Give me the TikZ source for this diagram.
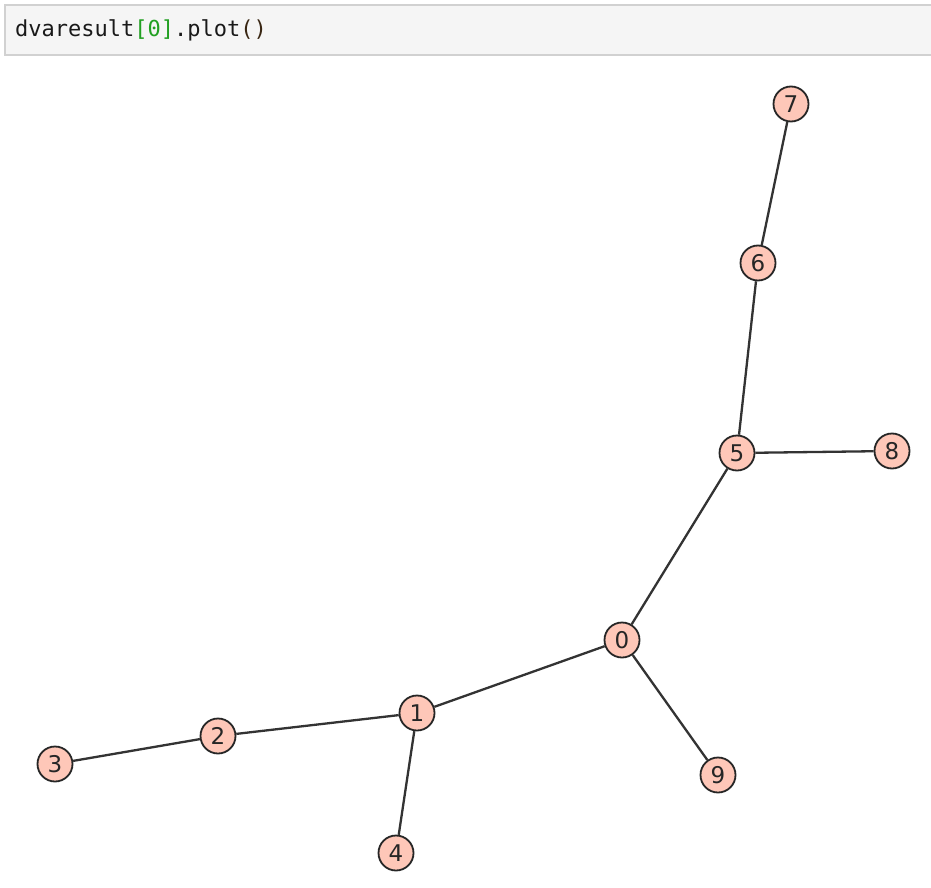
\documentclass[tikz,border=0pt]{standalone}
\usepackage{fontspec}
\setmainfont{DejaVu Sans}
\newfontfamily\codefont{DejaVu Sans Mono}
\newfontfamily\labelfont{DejaVu Sans}
\begin{document}
\begin{tikzpicture}[x=1pt,y=-1pt,
  vtx/.style={circle,draw=black!85,line width=1.8pt,fill=vfill,minimum size=35pt,inner sep=0pt,
    font=\labelfont\fontsize{23}{23}\selectfont,text=black!85},
  edge/.style={draw=black!80,line width=2.3pt}]
\definecolor{vfill}{HTML}{FEC7B8}
\definecolor{codegreen}{HTML}{22A022}
\useasboundingbox (0,0) rectangle (931,888);
\fill[white] (0,0) rectangle (931,888);
\path[fill=black!4,draw=black!18,line width=1.5pt] (940,5) -- (5,5) -- (5,55) -- (940,55);
\node[anchor=base west,inner sep=0pt,font=\codefont\fontsize{22}{22}\selectfont,text=black!90] (code) at (15,37)
  {dvaresult\textcolor{codegreen}{[0]}.plot\textcolor{black!70!brown}{()}};
\node[vtx] (n7) at (791,104) {7};
\node[vtx] (n6) at (758,263) {6};
\node[vtx] (n5) at (737,453) {5};
\node[vtx] (n8) at (892,451) {8};
\node[vtx] (n0) at (622,640) {0};
\node[vtx] (n1) at (417,713) {1};
\node[vtx] (n2) at (218,736) {2};
\node[vtx] (n3) at (55,764) {3};
\node[vtx] (n4) at (396,853) {4};
\node[vtx] (n9) at (718,775) {9};
\draw[edge] (n7) -- (n6);
\draw[edge] (n6) -- (n5);
\draw[edge] (n5) -- (n8);
\draw[edge] (n5) -- (n0);
\draw[edge] (n0) -- (n1);
\draw[edge] (n0) -- (n9);
\draw[edge] (n1) -- (n2);
\draw[edge] (n2) -- (n3);
\draw[edge] (n1) -- (n4);
\end{tikzpicture}
\end{document}
